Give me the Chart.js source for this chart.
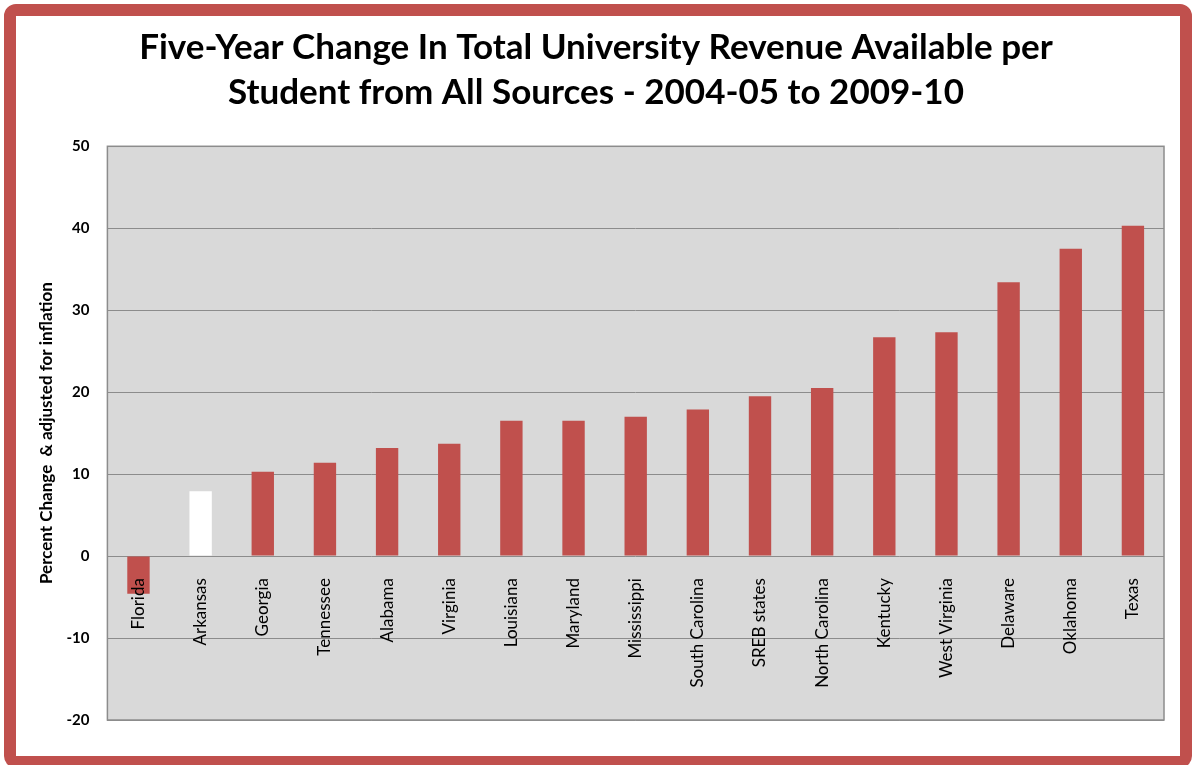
<html>
  <head>
    <script src="https://cdnjs.cloudflare.com/ajax/libs/Chart.js/4.4.0/chart.umd.min.js"></script>
  </head>
  <body>
    <div id="frame"></div>
    <canvas id="chart" width="1192" height="765"></canvas>
    <script>
      const states = ['Florida', 'Arkansas', 'Georgia', 'Tennessee', 'Alabama', 'Virginia', 'Louisiana',
        'Maryland', 'Mississippi', 'South Carolina', 'SREB states', 'North Carolina', 'Kentucky',
        'West Virginia', 'Delaware', 'Oklahoma', 'Texas'];
      const pctChange = [-4.6, 7.9, 10.3, 11.4, 13.2, 13.7, 16.5, 16.5, 17.0, 17.9, 19.5, 20.5, 26.7,
        27.3, 33.4, 37.5, 40.3];
      const yTicks = [-20, -10, 0, 10, 20, 30, 40, 50];

      // grey plot area behind the bars
      const plotBg = {
        id: 'plotBg',
        beforeDraw(chart) {
          const a = chart.chartArea;
          const c = chart.ctx;
          c.save();
          c.fillStyle = '#d9d9d9';
          c.fillRect(a.left, a.top, a.right - a.left, a.bottom - a.top);
          c.restore();
        },
        afterDatasetsDraw(chart) {
          const a = chart.chartArea;
          const c = chart.ctx;
          c.save();
          c.strokeStyle = '#8c8c8c';
          c.lineWidth = 1.5;
          c.strokeRect(a.left, a.top, a.right - a.left, a.bottom - a.top);
          c.restore();
        }
      };

      new Chart('chart', {
        type: 'bar',
        plugins: [plotBg],
        data: {
          labels: states,
          datasets: [{
            data: pctChange,
            backgroundColor: ctx => states[ctx.dataIndex] === 'Arkansas' ? '#ffffff' : '#c0504d',
            borderWidth: 0,
            barPercentage: 0.36,
            categoryPercentage: 1
          }]
        },
        options: {
          responsive: false,
          animation: false,
          layout: { padding: { top: 25, left: 28, right: 28, bottom: 45 } },
          plugins: {
            legend: { display: false },
            tooltip: { enabled: false },
            title: {
              display: true,
              text: ['Five-Year Change In Total University Revenue Available per',
                'Student from All Sources - 2004-05 to 2009-10'],
              color: '#000',
              font: { family: 'Lato', size: 35, weight: 'bold', lineHeight: 1.29 },
              padding: { top: 0, bottom: 31 }
            }
          },
          scales: {
            x: {
              position: { y: 0 },
              grid: { display: false },
              border: { display: false },
              ticks: {
                z: 1,
                autoSkip: false,
                minRotation: 90,
                maxRotation: 90,
                padding: 14,
                color: '#000',
                font: { family: 'Lato', size: 17 }
              }
            },
            y: {
              min: -20,
              max: 50,
              afterBuildTicks: axis => { axis.ticks = yTicks.map(v => ({ value: v })); },
              grid: { color: '#8c8c8c', lineWidth: 1, drawTicks: false },
              border: { display: false },
              ticks: {
                padding: 18,
                color: '#000',
                font: { family: 'Lato', size: 15, weight: 'bold' }
              },
              title: {
                display: true,
                text: 'Percent Change  & adjusted for inflation',
                color: '#000',
                font: { family: 'Lato', size: 17, weight: 'bold' },
                padding: { top: 8, bottom: -8 }
              }
            }
          }
        }
      });
    </script>
  </body>
  <style>
    body { margin: 0; background: #fff; }
    #frame {
      position: absolute;
      left: 4px;
      top: 4px;
      width: 1188px;
      height: 764px;
      box-sizing: border-box;
      border: 12px solid #c0504d;
      border-radius: 12px;
    }
    #chart { position: absolute; left: 0; top: 0; }
  </style>
</html>
